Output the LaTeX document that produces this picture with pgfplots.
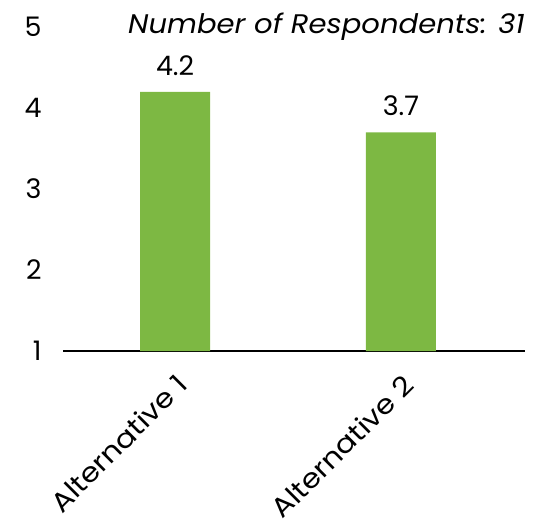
\documentclass[border=0pt]{standalone}
\usepackage{pgfplots}
\pgfplotsset{compat=1.18}
\usepackage{fontspec}
\setmainfont{Poppins}
\newfontfamily\widef{Poppins}[FakeStretch=1.12]
\newfontfamily\titlef{Poppins}[FakeStretch=1.08]
\definecolor{bargreen}{HTML}{7DB843}
\newcommand{\bigf}{\fontsize{27}{30}\selectfont}
\begin{document}
\begin{tikzpicture}
\useasboundingbox (-63bp,-174bp) rectangle (471bp,351bp);
\begin{axis}[
  at={(0,0)}, anchor=south west,
  scale only axis, width=462bp, height=324bp,
  xmin=-0.496, xmax=1.549,
  ymin=1, ymax=5,
  ytick={1,2,3,4,5},
  xtick=data,
  xticklabels={Alternative 1, Alternative 2},
  x tick label style={rotate=45, anchor=north east, font=\widef\bigf, inner sep=1pt, yshift=-14bp, xshift=-14bp},
  y tick label style={font=\bigf, xshift=-18bp},
  axis x line*=bottom,
  axis y line*=left,
  y axis line style={draw=none},
  major tick length=0pt,
  /pgf/number format/assume math mode=true,
  x axis line style={black, line width=1.2pt},
  ybar, bar width=70bp,
  nodes near coords,
  nodes near coords style={font=\bigf, black, /pgf/number format/fixed, /pgf/number format/precision=1, /pgf/number format/fixed zerofill, yshift=13bp},
  clip=false,
]
\addplot[fill=bargreen, draw=none] coordinates {(0,4.2) (1,3.7)};
\node[anchor=east, font=\titlef\bigf\itshape, inner sep=0pt] at (rel axis cs:1,1) {Number of Respondents: 31};
\end{axis}
\end{tikzpicture}
\end{document}
